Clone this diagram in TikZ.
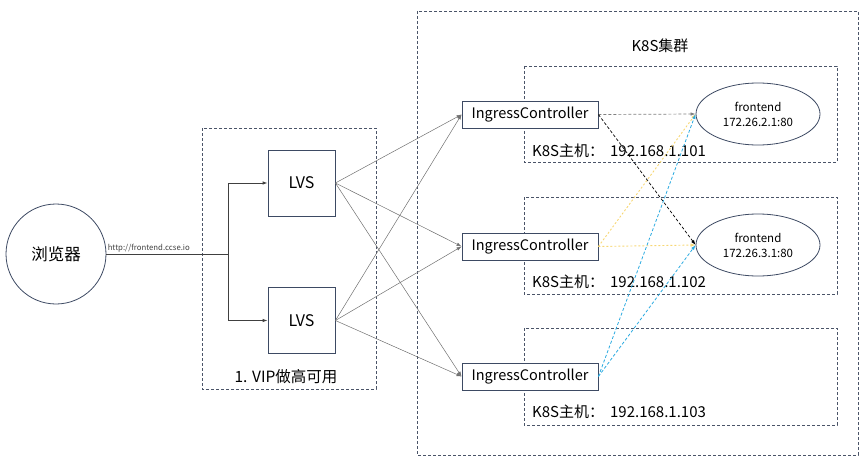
\documentclass[tikz,border=0pt]{standalone}
\usepackage{fontspec}
\setmainfont{Noto Sans CJK SC}
\usetikzlibrary{arrows.meta,shapes.geometric}
\definecolor{edgeblue}{HTML}{3D4A63}
\definecolor{dashgray}{HTML}{4A5468}
\definecolor{linegray}{HTML}{707070}
\definecolor{ylw}{HTML}{F7D774}
\definecolor{cyanblue}{HTML}{2AAAE0}
\tikzset{
  group/.style={draw=dashgray, dash pattern=on 3pt off 2pt, line width=0.8pt},
  box/.style={draw=edgeblue, line width=0.8pt, fill=white, inner sep=0pt},
  lbl/.style={font=\fontsize{15}{17}\selectfont, anchor=west, inner sep=0pt},
  conn/.style={draw=linegray, line width=0.5pt, -{Latex[length=5pt,width=3.5pt]}},
  tip/.style={-{Latex[length=5pt,width=3.5pt]}},
}
\begin{document}
\begin{tikzpicture}[x=1pt,y=-1pt]
\useasboundingbox (0,0) rectangle (865,460);
% groups
\draw[group] (417,11) rectangle (858,455);
\node[font=\fontsize{15}{17}\selectfont] (clusterlbl) at (660,46) {K8S集群};
\draw[group] (524,66) rectangle (837,162);
\draw[group] (524,197) rectangle (837,294);
\draw[group] (524,328) rectangle (837,425);
\draw[group] (202,128) rectangle (376,389);
\node[font=\fontsize{15.5}{17}\selectfont] (viplbl) at (286,377) {1. VIP做高可用};
\node[lbl] (h1) at (532,151) {K8S主机：\hspace{0.4em}192.168.1.101};
\node[lbl] (h2) at (532,282) {K8S主机：\hspace{0.4em}192.168.1.102};
\node[lbl] (h3) at (532,412) {K8S主机：\hspace{0.4em}192.168.1.103};
% nodes
\node[circle, draw=edgeblue, line width=0.8pt, minimum size=100pt, inner sep=0pt,
      font=\fontsize{16.5}{18}\selectfont] (browser) at (56,254) {浏览器};
\coordinate (split) at (228,254);
\node[box, minimum width=67pt, minimum height=66pt, font=\fontsize{16}{18}\selectfont] (lvs1) at (301.5,183) {LVS};
\node[box, minimum width=67pt, minimum height=66pt, font=\fontsize{16}{18}\selectfont] (lvs2) at (301.5,320.5) {LVS};
\node[box, minimum width=136pt, minimum height=27pt, font=\fontsize{14.5}{16}\selectfont] (ic1) at (530,114.5) {IngressController};
\node[box, minimum width=136pt, minimum height=27pt, font=\fontsize{14.5}{16}\selectfont] (ic2) at (530,246.5) {IngressController};
\node[box, minimum width=136pt, minimum height=27pt, font=\fontsize{14.5}{16}\selectfont] (ic3) at (530,376.5) {IngressController};
\node[ellipse, draw=edgeblue, line width=0.8pt, minimum width=124pt, minimum height=62pt, inner sep=0pt,
      font=\fontsize{11.5}{15}\selectfont, align=center] (fe1) at (758,114) {frontend\\172.26.2.1:80};
\node[ellipse, draw=edgeblue, line width=0.8pt, minimum width=124pt, minimum height=62pt, inner sep=0pt,
      font=\fontsize{11.5}{15}\selectfont, align=center] (fe2) at (758,245) {frontend\\172.26.3.1:80};
% browser to split
\draw[draw=black!75, line width=0.7pt] (browser.east) -- node[pos=0, anchor=south west, inner sep=1pt, font=\fontsize{7.8}{9}\selectfont, text=black!75] (url) {http://frontend.ccse.io} (split);
\draw[draw=black!75, line width=0.9pt, tip] (split) |- (lvs1.west);
\draw[draw=black!75, line width=0.9pt, tip] (split) |- (lvs2.west);
% lvs to ingress
\foreach \l in {lvs1,lvs2}{
  \foreach \i in {ic1,ic2,ic3}{
    \draw[conn] (\l.east) -- (\i.west);
  }
}
% ingress to frontends
\draw[draw=gray, line width=0.7pt, dash pattern=on 3pt off 2pt, tip] (ic1.east) -- (fe1.west);
\draw[draw=black, line width=0.7pt, dash pattern=on 3pt off 2pt, tip] (ic1.east) -- (fe2.west);
\draw[draw=ylw, line width=0.9pt, dash pattern=on 2pt off 2pt, tip] (ic2.east) -- (fe1.west);
\draw[draw=ylw, line width=0.9pt, dash pattern=on 2pt off 2pt, tip] (ic2.east) -- (fe2.west);
\draw[draw=cyanblue, line width=0.8pt, dash pattern=on 3pt off 2pt, tip] (ic3.east) -- (fe1.west);
\draw[draw=cyanblue, line width=0.8pt, dash pattern=on 3pt off 2pt, tip] (ic3.east) -- (fe2.west);
\end{tikzpicture}
\end{document}
